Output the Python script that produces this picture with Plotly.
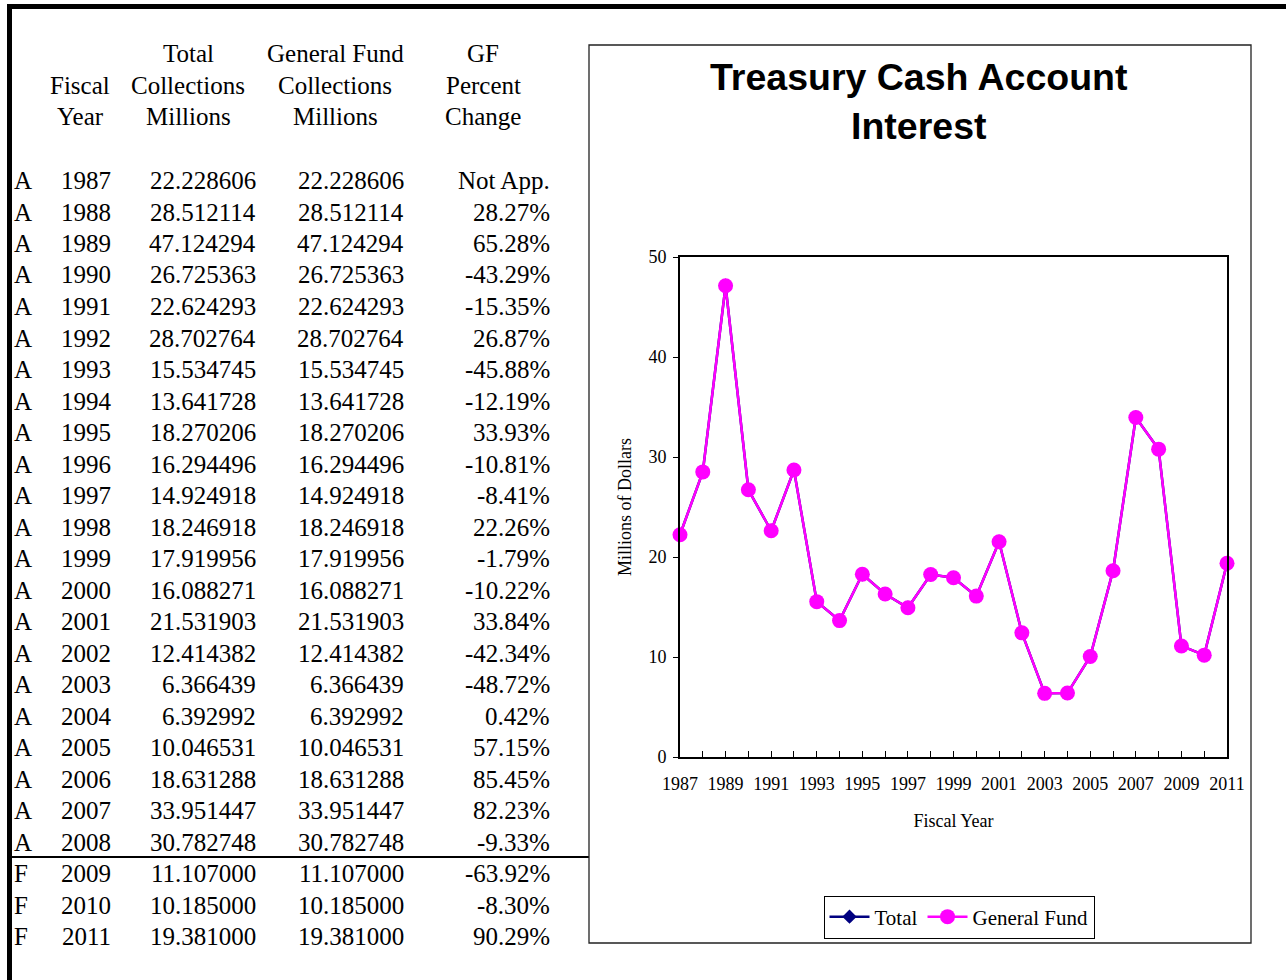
import plotly.graph_objects as go

W, H = 1286, 980

# Table data
status = ["A"] * 22 + ["F"] * 3
years = list(range(1987, 2012))
total_collections = [
    22.228606, 28.512114, 47.124294, 26.725363, 22.624293, 28.702764,
    15.534745, 13.641728, 18.270206, 16.294496, 14.924918, 18.246918,
    17.919956, 16.088271, 21.531903, 12.414382, 6.366439, 6.392992,
    10.046531, 18.631288, 33.951447, 30.782748, 11.107000, 10.185000,
    19.381000,
]
general_fund = list(total_collections)
pct_change = [
    "Not App.", "28.27%", "65.28%", "-43.29%", "-15.35%", "26.87%",
    "-45.88%", "-12.19%", "33.93%", "-10.81%", "-8.41%", "22.26%",
    "-1.79%", "-10.22%", "33.84%", "-42.34%", "-48.72%", "0.42%",
    "57.15%", "85.45%", "82.23%", "-9.33%", "-63.92%", "-8.30%",
    "90.29%",
]
x_tick_labels = [str(y) if (y - 1987) % 2 == 0 else "" for y in years]


def px(x):
    return x / W


def py(y):
    return 1 - y / H


SERIF = "Liberation Serif, Times New Roman, serif"
SANS = "Liberation Sans, Arial, sans-serif"

fig = go.Figure()

fig.add_trace(go.Scatter(
    x=years, y=total_collections, name="Total", mode="lines+markers",
    line=dict(color="#000080", width=2.5),
    marker=dict(symbol="diamond", size=11, color="#000080"),
    cliponaxis=False,
))
fig.add_trace(go.Scatter(
    x=years, y=general_fund, name="General Fund", mode="lines+markers",
    line=dict(color="#FF00FF", width=2.5),
    marker=dict(symbol="circle", size=15, color="#FF00FF"),
    cliponaxis=False,
))

annotations = []

# Table header
table_font = dict(family=SERIF, size=25, color="black")
header_rows = [54, 86, 117]
headers = [
    (80, ["", "Fiscal", "Year"]),
    (188, ["Total", "Collections", "Millions"]),
    (335, ["General Fund", "Collections", "Millions"]),
    (483, ["GF", "Percent", "Change"]),
]
for cx, lines in headers:
    for yy, txt in zip(header_rows, lines):
        if txt:
            annotations.append(dict(
                x=px(cx), y=py(yy), xref="paper", yref="paper", text=txt,
                showarrow=False, xanchor="center", yanchor="middle",
                font=table_font,
            ))

# Table body
for i, (s, yr, tc, gf, pc) in enumerate(zip(status, years, total_collections,
                                            general_fund, pct_change)):
    yy = py(180.5 + i * 31.5)
    cells = [
        (12, "left", s),
        (86, "center", str(yr)),
        (258, "right", f"{tc:.6f}"),
        (406, "right", f"{gf:.6f}"),
        (552, "right", pc),
    ]
    for cx, anchor, txt in cells:
        annotations.append(dict(
            x=px(cx), y=yy, xref="paper", yref="paper", text=txt,
            showarrow=False, xanchor=anchor, yanchor="middle",
            font=table_font,
        ))

# Chart title
annotations.append(dict(
    x=px(919), y=py(101), xref="paper", yref="paper",
    text="<b>Treasury Cash Account<br>Interest</b>",
    showarrow=False, xanchor="center", yanchor="middle",
    font=dict(family=SANS, size=37.5, color="black"),
))

shapes = [
    # heavy frame along top and left edges
    dict(type="rect", xref="paper", yref="paper", x0=px(7), x1=1.0,
         y0=py(9), y1=py(4), fillcolor="black", line=dict(width=0)),
    dict(type="rect", xref="paper", yref="paper", x0=px(7), x1=px(12),
         y0=0, y1=py(4), fillcolor="black", line=dict(width=0)),
    # rule between actual and forecast years
    dict(type="line", xref="paper", yref="paper", x0=px(10), x1=px(589),
         y0=py(857), y1=py(857), line=dict(color="black", width=2)),
    # chart frame
    dict(type="rect", xref="paper", yref="paper", x0=px(589), x1=px(1251),
         y0=py(943), y1=py(45), line=dict(color="#222222", width=1.3)),
]

tick_font = dict(family=SERIF, size=18, color="black")

fig.update_layout(
    width=W, height=H,
    margin=dict(l=0, r=0, t=0, b=0, pad=0, autoexpand=False),
    paper_bgcolor="white", plot_bgcolor="white",
    annotations=annotations, shapes=shapes,
    showlegend=True,
    legend=dict(
        orientation="h", x=px(959), y=py(917), xanchor="center",
        yanchor="middle", bordercolor="black", borderwidth=1,
        bgcolor="white", font=dict(family=SERIF, size=21, color="black"),
        itemwidth=40, tracegroupgap=0,
    ),
    xaxis=dict(
        domain=[px(680), px(1227)], range=[1987, 2011],
        tickvals=years, ticktext=x_tick_labels,
        ticks="inside", ticklen=6, tickwidth=1, tickcolor="black",
        showline=True, linecolor="black", linewidth=2, mirror=True,
        showgrid=False, zeroline=False, tickfont=tick_font,
        ticklabelstandoff=9,
        title=dict(text="Fiscal Year", font=tick_font, standoff=22),
        automargin=False, fixedrange=True,
    ),
    yaxis=dict(
        domain=[py(757), py(257)], range=[0, 50], dtick=10,
        ticks="outside", ticklen=5, tickwidth=1, tickcolor="black",
        showline=True, linecolor="black", linewidth=2, mirror=True,
        showgrid=False, zeroline=False, tickfont=tick_font,
        ticklabelstandoff=3,
        title=dict(text="Millions of Dollars", font=tick_font, standoff=12),
        automargin=False, fixedrange=True,
    ),
)

fig.write_html("out.html")
